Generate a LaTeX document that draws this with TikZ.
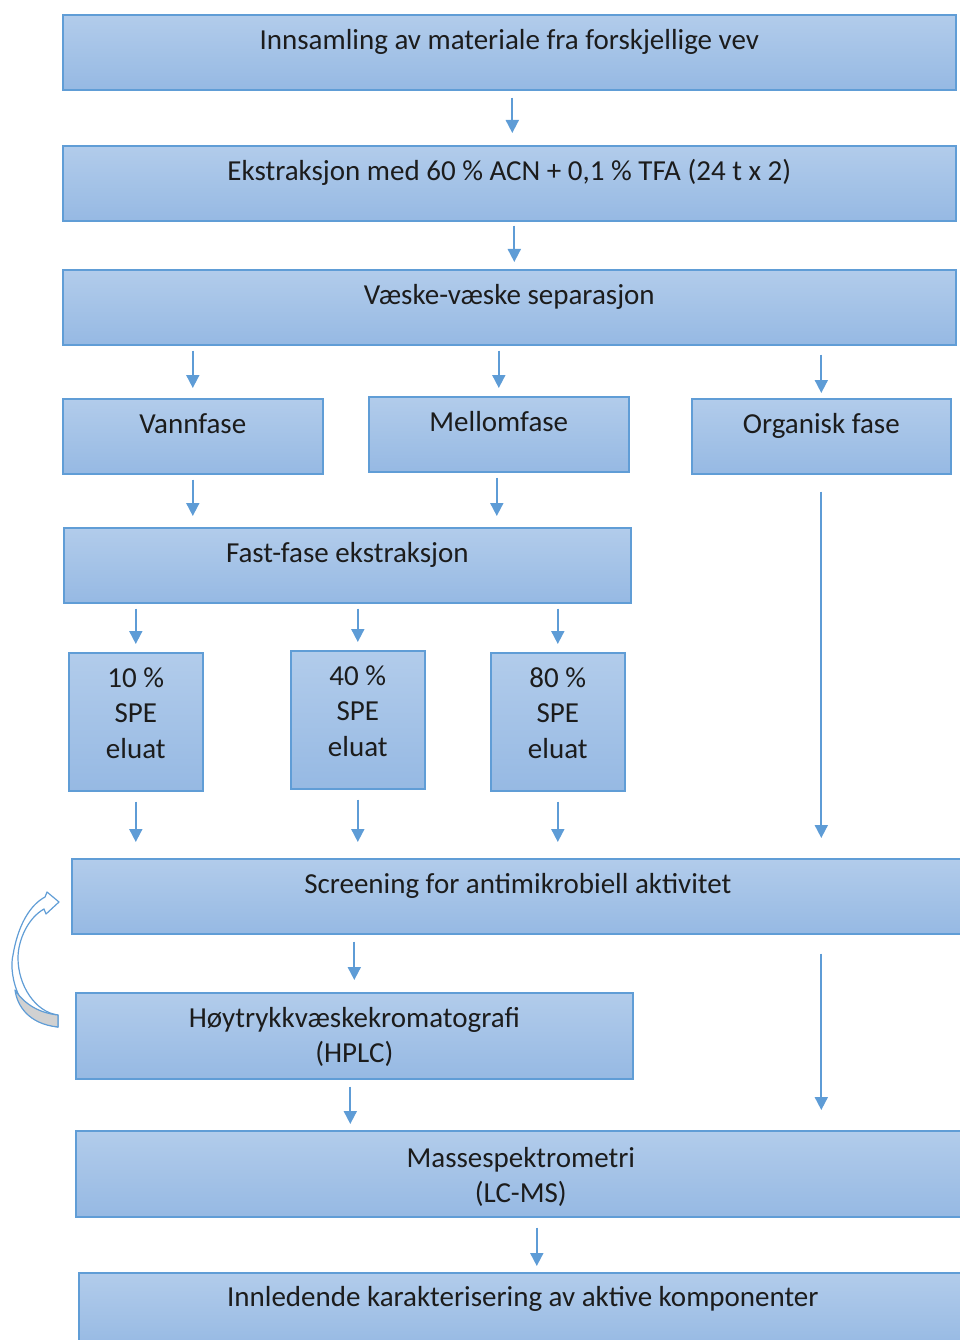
\documentclass[tikz,border=0pt]{standalone}
\usepackage{fontspec}
\setmainfont{Carlito}
\usetikzlibrary{arrows.meta}
\definecolor{boxtop}{RGB}{178,204,235}
\definecolor{boxbot}{RGB}{150,185,227}
\definecolor{boxline}{RGB}{96,157,214}
\definecolor{pil}{RGB}{94,156,214}
\definecolor{tekst}{RGB}{28,28,28}
\begin{document}
\begin{tikzpicture}[x=1pt,y=-1pt,
  font=\fontsize{29pt}{35.5pt}\selectfont, text=tekst,
  boks/.style={draw=boxline, line width=1.6pt, top color=boxtop, bottom color=boxbot,
    anchor=north west, inner xsep=0pt, inner ysep=0pt, text height=34.5pt, text depth=40.5pt},
  boks2/.style={draw=boxline, line width=1.6pt, top color=boxtop, bottom color=boxbot,
    anchor=north west, align=center, inner sep=0pt},
  pil/.style={draw=pil, line width=1.8pt, -{Triangle[length=13pt,width=13pt]}}]
  \useasboundingbox (0,0) rectangle (960,1340);
  \clip (0,0) rectangle (960,1340);

  \node[boks, minimum width=893pt] (inn) at (62,14) {Innsamling av materiale fra forskjellige vev};
  \node[boks, minimum width=893pt] (ekstr) at (62,145) {Ekstraksjon med 60 \% ACN + 0,1 \% TFA (24 t x 2)};
  \node[boks, minimum width=893pt] (vaeske) at (62,269) {Væske-væske separasjon};

  \node[boks, minimum width=260pt] (vann) at (62,398) {Vannfase};
  \node[boks, minimum width=260pt] (mellom) at (368,396) {Mellomfase};
  \node[boks, minimum width=259pt] (org) at (691,398) {Organisk fase};

  \node[boks, minimum width=567pt] (fast) at (63,527) {Fast-fase ekstraksjon};

  \foreach \x/\y/\p in {68/652/10,290/650/40,490/652/80}
    \node[boks2, minimum width=134pt, text height=105.5pt, text depth=32.5pt] (spe\p) at (\x,\y) {\p~\%\\SPE\\eluat};

  \node[boks, minimum width=892pt] (screen) at (71,858) {Screening for antimikrobiell aktivitet};
  \node[boks2, minimum width=557pt, text height=70pt, text depth=16pt] (hplc) at (75,992) {Høytrykkvæskekromatografi\\(HPLC)};
  \node[boks2, minimum width=890pt, text height=72pt, text depth=14pt] (masse) at (75,1130) {Massespektrometri\\(LC-MS)};
  \node[boks, minimum width=888pt, text height=33.5pt, text depth=41.5pt] (innl) at (78,1272) {Innledende karakterisering av aktive komponenter};

  % piler
  \draw[pil, shorten <=7pt, shorten >=12pt] ([xshift=3pt]inn.south) -- ([xshift=3pt]ekstr.north);
  \draw[pil, shorten <=4pt, shorten >=7pt] ([xshift=5pt]ekstr.south) -- ([xshift=5pt]vaeske.north);
  \draw[pil, shorten <=5pt, shorten >=10pt] (vaeske.south -| vann.north) -- (vann.north);
  \draw[pil, shorten <=5pt, shorten >=8pt] (vaeske.south -| mellom.north) -- (mellom.north);
  \draw[pil, shorten <=9pt, shorten >=5pt] (vaeske.south -| org.north) -- (org.north);
  \draw[pil, shorten <=5pt, shorten >=11pt] (vann.south) -- (vann.south |- fast.north);
  \draw[pil, shorten <=5pt, shorten >=11pt] ([xshift=-2pt]mellom.south) -- ([xshift=-2pt]mellom.south |- fast.north);
  \foreach \p in {10,40,80}
    \draw[pil, shorten <=5pt, shorten >=8pt] (fast.south -| spe\p.north) -- (spe\p.north);
  \foreach \p in {10,40,80}
    \draw[pil, shorten <=10pt, shorten >=16pt] (spe\p.south) -- (spe\p.south |- screen.north);
  \draw[pil, shorten <=17pt, shorten >=20pt] (org.south) -- (org.south |- screen.north);
  \draw[pil, shorten <=7pt, shorten >=12pt] (screen.south -| hplc.north) -- (hplc.north);
  \draw[pil, shorten <=19pt, shorten >=20pt] (org.south |- screen.south) -- (org.south |- masse.north);
  \draw[pil, shorten <=7pt, shorten >=6pt] ([xshift=-4pt]hplc.south) -- ([xshift=-4pt]hplc.south |- masse.north);
  \draw[pil, shorten <=10pt, shorten >=6pt] ([xshift=16pt]masse.south) -- ([xshift=16pt]masse.south |- innl.north);

  % buet pil tilbake
  \filldraw[fill=white, draw=boxline, line width=1.2pt, line join=round]
    (58,1027) .. controls (20,1022) and (8,975) .. (13,955)
    .. controls (18,925) and (30,905) .. (45,897)
    -- (47,892) -- (59,902) -- (46,914) -- (44,909)
    .. controls (28,918) and (18,940) .. (18,958)
    .. controls (18,985) and (35,1012) .. (58,1015) -- cycle;
  \filldraw[fill=black!18, draw=boxline, line width=1.2pt, line join=round]
    (58,1027) .. controls (28,1024) and (17,1005) .. (15,990)
    .. controls (25,1005) and (40,1013) .. (58,1015) -- cycle;
\end{tikzpicture}
\end{document}
